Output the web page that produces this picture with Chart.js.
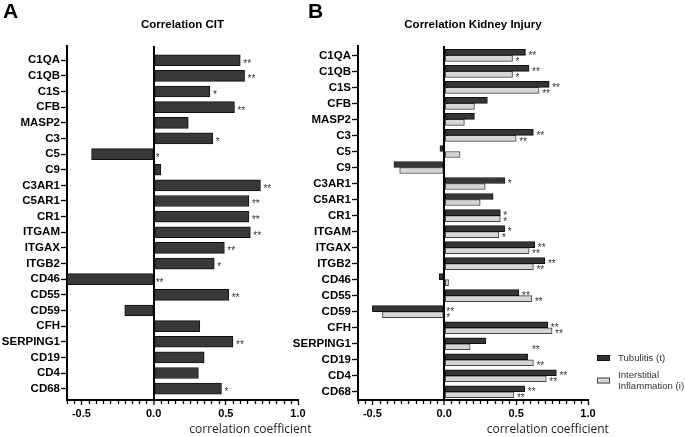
<!DOCTYPE html>
<html>
<head>
<meta charset="utf-8">
<script src="https://cdn.jsdelivr.net/npm/chart.js@4.4.1/dist/chart.umd.min.js"></script>
<style>
    html, body { margin: 0; padding: 0; background: #fff; }
    #wrap { position: relative; width: 685px; height: 437px; overflow: hidden; }
    canvas { position: absolute; top: 0; }
    #chartA { left: 0; }
    #chartB { left: 280px; }
</style>
</head>
<body>
<div id="wrap">
    <canvas id="chartA" width="340" height="437"></canvas>
    <canvas id="chartB" width="405" height="437"></canvas>
</div>
<script>
// Data
const genes = ['C1QA', 'C1QB', 'C1S', 'CFB', 'MASP2', 'C3', 'C5', 'C9', 'C3AR1', 'C5AR1', 'CR1',
    'ITGAM', 'ITGAX', 'ITGB2', 'CD46', 'CD55', 'CD59', 'CFH', 'SERPING1', 'CD19', 'CD4', 'CD68'];

const citValues = [0.60, 0.63, 0.39, 0.56, 0.24, 0.41, -0.43, 0.05, 0.74, 0.66, 0.66,
    0.67, 0.49, 0.42, -0.60, 0.52, -0.20, 0.32, 0.55, 0.35, 0.31, 0.47];
const citSig = ['**', '**', '*', '**', '', '*', '*', '', '**', '**', '**',
    '**', '**', '*', '**', '**', '', '', '**', '', '', '*'];

const tubValues = [0.565, 0.59, 0.73, 0.30, 0.21, 0.62, -0.03, -0.35, 0.42, 0.34, 0.39,
    0.42, 0.63, 0.70, -0.035, 0.52, -0.50, 0.72, 0.29, 0.58, 0.78, 0.56];
const tubSig = ['**', '**', '**', '', '', '**', '', '', '*', '', '*',
    '*', '**', '**', '', '**', '**', '**', '', '', '**', '**'];

const infValues = [0.475, 0.475, 0.66, 0.21, 0.14, 0.50, 0.11, -0.31, 0.285, 0.25, 0.39,
    0.38, 0.59, 0.62, 0.03, 0.61, -0.43, 0.75, 0.18, 0.62, 0.71, 0.485];
const infSig = ['*', '*', '**', '', '', '**', '', '', '', '', '*',
    '*', '**', '**', '', '**', '*', '**', '**', '**', '**', '**'];
// the SERPING1 stars sit away from their bar in the original
const infSigAt = [null, null, null, null, null, null, null, null, null, null, null,
    null, null, null, null, null, null, null, 0.61, null, null, null];

const majorTicks = [-0.5, 0, 0.5, 1.0];
const seriesNames = ['Tubulitis (t)', 'Interstitial\nInflammation (i)'];

const SANS = '"Liberation Sans", Arial, sans-serif';

function toPoints(values) {
    return values.map((v, i) => ({ x: v, y: i }));
}

function isMajor(v) {
    return majorTicks.some(m => Math.abs(m - v) < 1e-6);
}

// Titles, minor ticks, stars, letter, legend
const decor = {
    id: 'decor',
    afterDraw(chart, args, o) {
        const ctx = chart.ctx;
        const ca = chart.chartArea;
        const xs = chart.scales.x;
        ctx.save();

        // minor ticks
        ctx.strokeStyle = '#000';
        ctx.lineWidth = 1.3;
        xs.ticks.forEach(t => {
            if (isMajor(t.value)) return;
            const px = Math.round(xs.getPixelForValue(t.value)) + 0.5;
            ctx.beginPath();
            ctx.moveTo(px, ca.bottom);
            ctx.lineTo(px, ca.bottom + 4);
            ctx.stroke();
        });

        ctx.fillStyle = '#000';
        ctx.font = 'bold 11.5px ' + SANS;
        ctx.textAlign = 'center';
        ctx.textBaseline = 'middle';
        ctx.fillText(o.title, (ca.left + ca.right) / 2, 25);

        ctx.font = 'bold 21px ' + SANS;
        ctx.textAlign = 'left';
        ctx.textBaseline = 'top';
        ctx.fillText(o.letter, o.letterX, 2);

        ctx.fillStyle = '#222';
        ctx.font = '12px "Open Sans", sans-serif';
        ctx.textAlign = 'center';
        ctx.textBaseline = 'middle';
        ctx.fillText('correlation coefficient', xs.getPixelForValue(o.axisTitleAt), 430);

        // significance stars
        ctx.fillStyle = '#333';
        ctx.font = '10px ' + SANS;
        ctx.textAlign = 'left';
        ctx.textBaseline = 'alphabetic';
        chart.data.datasets.forEach((ds, di) => {
            const meta = chart.getDatasetMeta(di);
            meta.data.forEach((bar, i) => {
                const s = ds.sig[i];
                if (!s) return;
                let x = Math.max(bar.x, bar.base) + 3;
                if (ds.sigAt && ds.sigAt[i] != null) x = xs.getPixelForValue(ds.sigAt[i]);
                ctx.fillText(s, x, bar.y + 6.5);
            });
        });

        // legend
        if (o.legend) {
            let y = o.legendY;
            chart.data.datasets.forEach((ds, di) => {
                const lines = seriesNames[di].split('\n');
                const boxY = y + (lines.length - 1) * 5.5;
                ctx.fillStyle = ds.backgroundColor;
                ctx.strokeStyle = ds.borderColor;
                ctx.lineWidth = 1;
                ctx.fillRect(o.legendX, boxY - 3, 13, 6);
                ctx.strokeRect(o.legendX + 0.5, boxY - 2.5, 12, 5);
                ctx.fillStyle = '#333';
                ctx.font = '9.6px ' + SANS;
                ctx.textBaseline = 'middle';
                lines.forEach((ln, li) => ctx.fillText(ln, o.legendX + 21, y + li * 11.5));
                y += 17;
            });
        }
        ctx.restore();
    }
};

function makeOptions(yMin, yMax, yWidth, padRight, decorOpts) {
    return {
        indexAxis: 'y',
        responsive: false,
        animation: false,
        layout: { padding: { top: 46, right: padRight, bottom: 0, left: 0 } },
        plugins: {
            legend: { display: false },
            tooltip: { enabled: false },
            decor: decorOpts
        },
        scales: {
            y: {
                type: 'linear',
                reverse: true,
                min: yMin,
                max: yMax,
                afterBuildTicks: s => { s.ticks = genes.map((g, i) => ({ value: i })); },
                afterFit: s => { s.width = yWidth; },
                ticks: {
                    autoSkip: false,
                    padding: 1,
                    color: '#000',
                    font: { family: SANS, size: 11.5, weight: 'bold', lineHeight: 1 },
                    callback: v => genes[v]
                },
                grid: { drawOnChartArea: false, offset: false, tickLength: 6, tickColor: '#000', tickWidth: 1.3 },
                border: { color: '#000', width: 2 }
            },
            x: {
                type: 'linear',
                min: -0.6,
                max: 1.0,
                afterBuildTicks: s => {
                    const t = [];
                    for (let k = -12; k <= 20; k++) t.push({ value: Math.round(k * 5) / 100 });
                    s.ticks = t;
                },
                afterFit: s => { s.height = 37; },
                ticks: {
                    autoSkip: false,
                    maxRotation: 0,
                    padding: 2,
                    color: '#000',
                    font: { family: SANS, size: 11, weight: 'bold' },
                    callback: v => isMajor(v) ? v.toFixed(1) : ''
                },
                grid: {
                    color: c => (c.tick && c.tick.value === 0) ? '#000' : 'rgba(0,0,0,0)',
                    lineWidth: c => (c.tick && c.tick.value === 0) ? 2 : 1,
                    tickLength: 5,
                    tickWidth: 1.3,
                    tickColor: c => (c.tick && isMajor(c.tick.value)) ? '#000' : 'rgba(0,0,0,0)'
                },
                border: { color: '#000', width: 2 }
            }
        }
    };
}

document.addEventListener('DOMContentLoaded', function () {
    // Panel A
    new Chart(document.getElementById('chartA').getContext('2d'), {
        type: 'bar',
        data: {
            datasets: [{
                label: 'CIT',
                data: toPoints(citValues),
                sig: citSig,
                backgroundColor: '#383838',
                borderColor: '#111',
                borderWidth: 1,
                borderSkipped: false,
                barThickness: 11
            }]
        },
        options: makeOptions(-0.396, 21.21, 67, 42,
            { title: 'Correlation CIT', letter: 'A', letterX: 3, axisTitleAt: 0.67 }),
        plugins: [decor]
    });

    // Panel B
    new Chart(document.getElementById('chartB').getContext('2d'), {
        type: 'bar',
        data: {
            datasets: [
                {
                    label: 'Tubulitis (t)',
                    data: toPoints(tubValues),
                    sig: tubSig,
                    backgroundColor: '#353535',
                    borderColor: '#111',
                    borderWidth: 1,
                    borderSkipped: false,
                    barThickness: 6
                },
                {
                    label: 'Interstitial Inflammation (i)',
                    data: toPoints(infValues),
                    sig: infSig,
                    sigAt: infSigAt,
                    backgroundColor: '#d6d6d6',
                    borderColor: '#444',
                    borderWidth: 1,
                    borderSkipped: false,
                    barThickness: 6
                }
            ]
        },
        options: makeOptions(-0.081, 21.01, 78, 97,
            { title: 'Correlation Kidney Injury', letter: 'B', letterX: 28, axisTitleAt: 0.72,
              legend: true, legendX: 317, legendY: 358 }),
        plugins: [decor]
    });
});
</script>
</body>
</html>
